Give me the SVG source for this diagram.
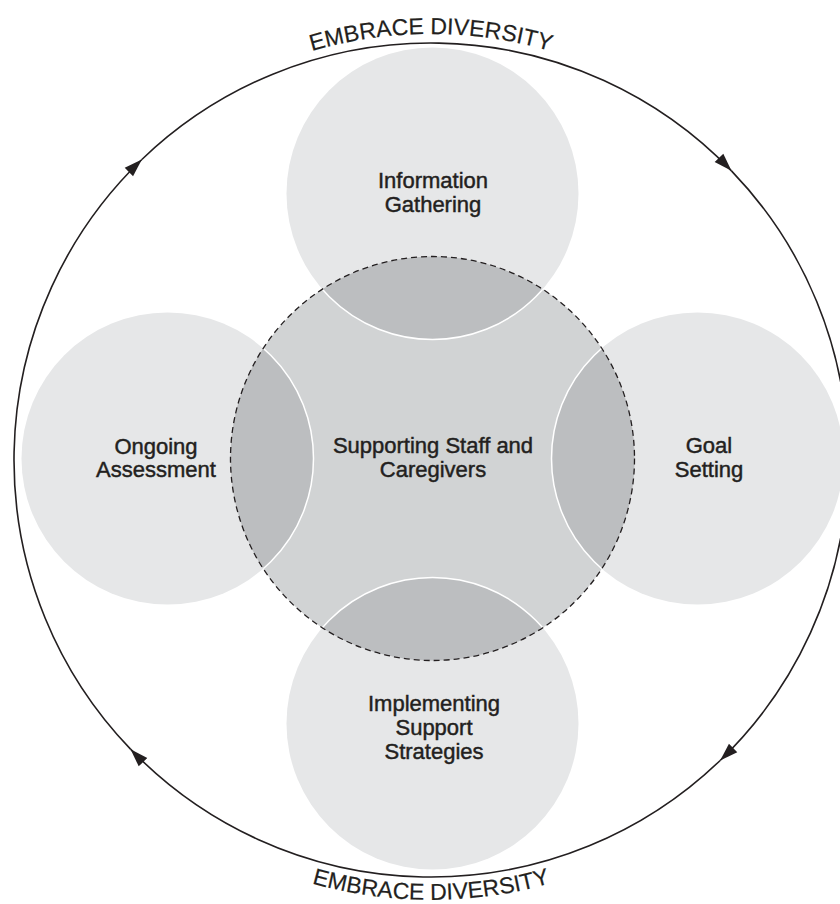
<svg xmlns="http://www.w3.org/2000/svg" width="840" height="904" viewBox="0 0 840 904">
  <style>
    .sat { fill: #e6e7e8; }
    .lens { fill: #bcbec0; stroke: #ffffff; stroke-width: 1.5; }
    .hub { fill: #d1d3d4; }
    .hub-edge { fill: none; stroke: #231f20; stroke-width: 1.3; stroke-dasharray: 6 4; }
    .ring { fill: none; stroke: #231f20; stroke-width: 1.6; }
    .label { font-family: "Liberation Sans", Arial, sans-serif; font-size: 22px; fill: #231f20; stroke: #231f20; stroke-width: 0.45; text-anchor: middle; }
    .motto { font-family: "Liberation Sans", Arial, sans-serif; font-size: 23px; fill: #231f20; stroke: #231f20; stroke-width: 0.2; }
  </style>
  <defs>
    <marker id="arrowhead" markerUnits="userSpaceOnUse" markerWidth="20" markerHeight="14" viewBox="-18 -7 19 14" refX="0" refY="0" orient="auto">
      <path d="M0,0 L-18,-6 L-18,6 Z" fill="#231f20"/>
    </marker>
    <clipPath id="hub-clip">
      <circle cx="432.5" cy="458.5" r="202"/>
    </clipPath>
    <path id="motto-top" d="M5,460 A426,426 0 0 1 857,460"/>
    <path id="motto-bottom" d="M-9,460 A440,440 0 0 0 871,460"/>
  </defs>

  <!-- outer clockwise cycle -->
  <g id="connectors">
    <path class="ring" d="M130.53,749.15 A417,417 0 0 1 141.85,159.53" marker-end="url(#arrowhead)"/>
    <path class="ring" d="M141.85,159.53 A417,417 0 0 1 731.47,170.85" marker-end="url(#arrowhead)"/>
    <path class="ring" d="M731.47,170.85 A417,417 0 0 1 720.15,760.47" marker-end="url(#arrowhead)"/>
    <path class="ring" d="M720.15,760.47 A417,417 0 0 1 130.53,749.15" marker-end="url(#arrowhead)"/>
    <text class="motto"><textPath href="#motto-top" startOffset="50%" text-anchor="middle">EMBRACE DIVERSITY</textPath></text>
    <text class="motto"><textPath href="#motto-bottom" startOffset="50%" text-anchor="middle">EMBRACE DIVERSITY</textPath></text>
  </g>

  <g id="node-information-gathering">
    <circle class="sat" cx="432.5" cy="193.5" r="146"/>
    <text class="label" x="433" y="188">Information</text>
    <text class="label" x="433" y="212">Gathering</text>
  </g>

  <g id="node-goal-setting">
    <circle class="sat" cx="697.5" cy="458.5" r="146"/>
    <text class="label" x="709" y="453">Goal</text>
    <text class="label" x="709" y="477">Setting</text>
  </g>

  <g id="node-implementing-support-strategies">
    <circle class="sat" cx="432.5" cy="723.5" r="146"/>
    <text class="label" x="434" y="711">Implementing</text>
    <text class="label" x="434" y="735">Support</text>
    <text class="label" x="434" y="759">Strategies</text>
  </g>

  <g id="node-ongoing-assessment">
    <circle class="sat" cx="167.5" cy="458.5" r="146"/>
    <text class="label" x="156" y="454">Ongoing</text>
    <text class="label" x="156" y="477">Assessment</text>
  </g>

  <g id="node-supporting-staff">
    <circle class="hub" cx="432.5" cy="458.5" r="202"/>
    <g clip-path="url(#hub-clip)">
      <circle class="lens" cx="432.5" cy="193.5" r="146"/>
      <circle class="lens" cx="697.5" cy="458.5" r="146"/>
      <circle class="lens" cx="432.5" cy="723.5" r="146"/>
      <circle class="lens" cx="167.5" cy="458.5" r="146"/>
    </g>
    <circle class="hub-edge" cx="432.5" cy="458.5" r="202"/>
    <text class="label" x="433" y="453">Supporting Staff and</text>
    <text class="label" x="433" y="477">Caregivers</text>
  </g>
</svg>
